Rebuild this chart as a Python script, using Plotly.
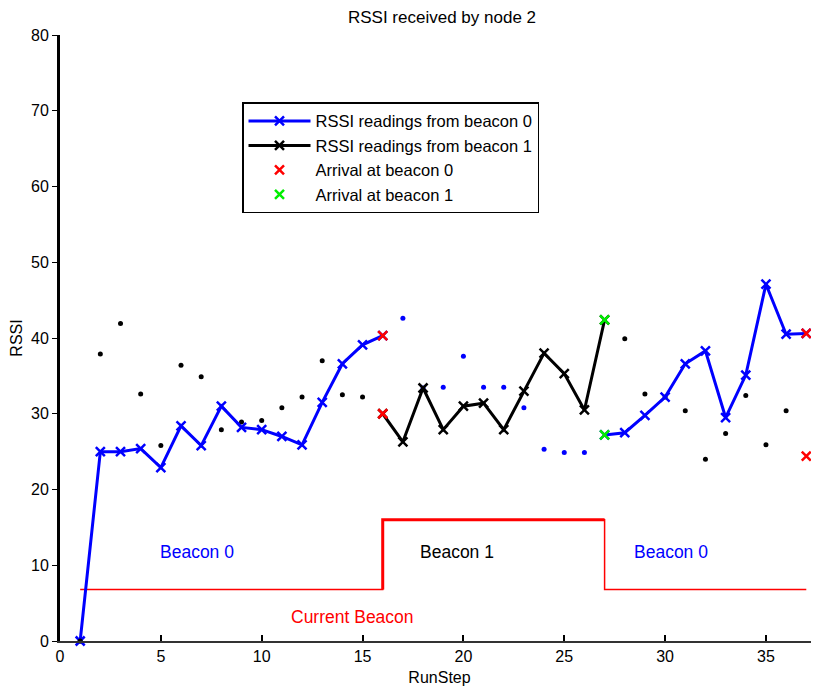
import plotly.graph_objects as go

# ---------------- data ----------------
run_step = list(range(1, 38))
rssi_beacon0 = [0.0, 25.0, 25.0, 25.4, 22.9, 28.4, 25.8, 31.0, 28.2, 27.9,
                27.0, 25.9, 31.5, 36.6, 39.1, 40.3, 42.6, 33.4, 33.5, 37.6,
                33.5, 33.5, 30.8, 25.3, 24.9, 24.9, 27.2, 27.5, 29.8, 32.2,
                36.6, 38.3, 29.5, 35.1, 47.1, 40.5, 40.6]
rssi_beacon1 = [0.0, 37.9, 41.9, 32.6, 25.8, 36.4, 34.9, 27.9, 28.9, 29.1,
                30.8, 32.2, 37.0, 32.5, 32.2, 30.0, 26.3, 33.4, 27.9, 31.0,
                31.4, 27.9, 33.0, 38.0, 35.3, 30.5, 42.4, 39.9, 32.6, 32.2,
                30.4, 24.0, 27.4, 32.4, 25.9, 30.4, 24.4]
current_beacon = [0] * 15 + [1] * 11 + [0] * 11
arrival_beacon0_steps = [16, 37]
arrival_beacon1_steps = [27]
beacon_level = {0: 6.8, 1: 16.0}

beacon_labels = [("Beacon 0", 6.8, 11.7, "#0000ff"),
                 ("Beacon 1", 19.7, 11.7, "#000000"),
                 ("Beacon 0", 30.3, 11.7, "#0000ff")]
current_label = ("Current Beacon", 14.5, 3.2, "#ff0000")

# ---------------- derived series ----------------
b0_line = [v if (c == 0 or s in arrival_beacon0_steps) else None
           for s, v, c in zip(run_step, rssi_beacon0, current_beacon)]
b1_line = [v if (c == 1 or s in arrival_beacon1_steps) else None
           for s, v, c in zip(run_step, rssi_beacon1, current_beacon)]
arrival_all = arrival_beacon0_steps + arrival_beacon1_steps
b0_dots = [v if l is None else None for v, l in zip(rssi_beacon0, b0_line)]
b1_dots = [v if (l is None and s not in arrival_all) else None
           for s, v, l in zip(run_step, rssi_beacon1, b1_line)]

def arrivals(steps):
    xs, ys = [], []
    for s in steps:
        i = run_step.index(s)
        xs += [s, s]
        ys += [rssi_beacon0[i], rssi_beacon1[i]]
    return xs, ys

levels = [beacon_level[c] for c in current_beacon]

FONT = "Liberation Sans, Arial, Helvetica, sans-serif"
fig = go.Figure()

# current beacon step line (thin everywhere)
fig.add_trace(go.Scatter(x=run_step, y=levels, mode="lines", line_shape="hv",
                         line=dict(color="#ff0000", width=1.5),
                         showlegend=False, hoverinfo="skip", cliponaxis=False))
# thicker upper part of the step (rise and top)
hi_idx = [i for i, c in enumerate(current_beacon) if c == 1]
i0, i1 = hi_idx[0], hi_idx[-1] + 1
fig.add_trace(go.Scatter(x=run_step[i0:i1 + 1], y=levels[i0 - 1:i1],
                         mode="lines", line_shape="vh",
                         line=dict(color="#ff0000", width=3),
                         showlegend=False, hoverinfo="skip"))

# dots (readings from the non-current beacon)
fig.add_trace(go.Scatter(x=run_step, y=b1_dots, mode="markers",
                         marker=dict(color="#000000", size=5),
                         showlegend=False, cliponaxis=False))
fig.add_trace(go.Scatter(x=run_step, y=b0_dots, mode="markers",
                         marker=dict(color="#0000ff", size=5),
                         showlegend=False, cliponaxis=False))

xmark = dict(symbol="x-thin-open", size=9, line=dict(width=2.5))
fig.add_trace(go.Scatter(x=run_step, y=b0_line, mode="lines+markers",
                         name="RSSI readings from beacon 0",
                         line=dict(color="#0000ff", width=3),
                         marker=dict(color="#0000ff", **xmark),
                         connectgaps=False, cliponaxis=False))
fig.add_trace(go.Scatter(x=run_step, y=b1_line, mode="lines+markers",
                         name="RSSI readings from beacon 1",
                         line=dict(color="#000000", width=3),
                         marker=dict(color="#000000", **xmark),
                         connectgaps=False, cliponaxis=False))
ax, ay = arrivals(arrival_beacon0_steps)
fig.add_trace(go.Scatter(x=ax, y=ay, mode="markers", name="Arrival at beacon 0",
                         marker=dict(color="#ff0000", **xmark),
                         cliponaxis=False))
gx, gy = arrivals(arrival_beacon1_steps)
fig.add_trace(go.Scatter(x=gx, y=gy, mode="markers", name="Arrival at beacon 1",
                         marker=dict(color="#00ee00", **xmark),
                         cliponaxis=False))

# black dot at step 1 drawn on top of the blue marker
fig.add_trace(go.Scatter(x=run_step[:1], y=rssi_beacon1[:1], mode="markers",
                         marker=dict(color="#000000", size=5),
                         showlegend=False, cliponaxis=False))

for txt, x, y, col in beacon_labels + [current_label]:
    fig.add_annotation(x=x, y=y, text=txt, showarrow=False,
                       font=dict(family=FONT, size=17.5, color=col))

# page body has an 8px margin, so the figure is 8px smaller than the window
W, H = 811, 681
fig.update_layout(
    width=W, height=H,
    margin=dict(l=52, r=0, t=27, b=48, autoexpand=False),
    paper_bgcolor="white", plot_bgcolor="white",
    font=dict(family=FONT, size=16, color="#000000"),
    title=dict(text="RSSI received by node 2", x=434 / W, xanchor="center",
               y=1 - 9 / H, yanchor="middle", yref="container",
               font=dict(size=17)),
    legend=dict(x=0.2398, y=0.889, xanchor="left", yanchor="top",
                bgcolor="white", bordercolor="#000000", borderwidth=1.5,
                font=dict(size=16.5), itemwidth=62),
    xaxis=dict(range=[0, 37.63], tickvals=list(range(0, 36, 5)),
               showgrid=False, zeroline=False, showline=True,
               linecolor="#333333", linewidth=1.5, ticks="inside",
               ticklen=6, tickcolor="#000000", tickwidth=1.5,
               automargin=False,
               title=dict(text="RunStep", standoff=8, font=dict(size=16))),
    yaxis=dict(range=[0, 80], tickvals=list(range(0, 81, 10)),
               showgrid=False, zeroline=False, showline=True,
               linecolor="#000000", linewidth=3, ticks="outside",
               ticklen=5, tickcolor="#000000", automargin=False,
               title=dict(text="RSSI", standoff=6, font=dict(size=16))),
)

fig.write_html("out.html")
